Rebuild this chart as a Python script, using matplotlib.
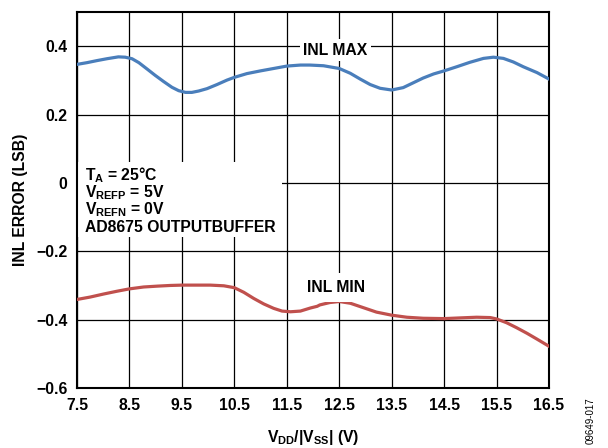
'''
INL error vs supply voltage
'''
import numpy as np
import matplotlib
matplotlib.use('Agg')
import matplotlib.pyplot as plt
from matplotlib.patches import Rectangle

# data
vmax_x = [7.5, 7.69, 7.88, 8.07, 8.29, 8.42, 8.55, 8.68, 8.84, 8.99, 9.15, 9.31, 9.44,
          9.57, 9.69, 9.82, 9.98, 10.17, 10.36, 10.5, 10.74, 11.0, 11.25, 11.5, 11.76,
          11.94, 12.2, 12.5, 12.71, 12.9, 13.09, 13.28, 13.5, 13.72, 13.91, 14.1, 14.3,
          14.5, 14.74, 14.99, 15.25, 15.44, 15.63, 15.82, 16.01, 16.27, 16.5]
inl_max = [0.347, 0.352, 0.358, 0.3635, 0.369, 0.368, 0.3635, 0.352, 0.333, 0.315, 0.297,
           0.280, 0.270, 0.265, 0.265, 0.269, 0.276, 0.288, 0.301, 0.309, 0.320, 0.328,
           0.335, 0.342, 0.345, 0.345, 0.343, 0.335, 0.321, 0.304, 0.288, 0.277, 0.272,
           0.279, 0.293, 0.307, 0.319, 0.328, 0.340, 0.353, 0.3645, 0.368, 0.3645, 0.354,
           0.340, 0.323, 0.304]

vmin_x = [7.5, 7.75, 8.01, 8.26, 8.5, 8.77, 9.03, 9.28, 9.51, 9.79, 10.04, 10.3, 10.5,
          10.68, 10.87, 11.06, 11.25, 11.41, 11.57, 11.76, 11.95, 12.08, 12.13, 12.32,
          12.5, 12.71, 12.96, 13.21, 13.5, 13.79, 14.1, 14.5, 14.8, 15.12, 15.38, 15.5,
          15.69, 15.88, 16.08, 16.27, 16.5]
inl_min = [-0.341, -0.334, -0.325, -0.317, -0.310, -0.3045, -0.302, -0.300, -0.299, -0.299,
           -0.299, -0.301, -0.3065, -0.320, -0.338, -0.354, -0.367, -0.375, -0.377, -0.375,
           -0.366, -0.361, -0.357, -0.350, -0.347, -0.352, -0.365, -0.378, -0.387, -0.393,
           -0.396, -0.397, -0.395, -0.393, -0.394, -0.398, -0.409, -0.4235, -0.440, -0.457,
           -0.478]

xticks = np.arange(7.5, 16.6, 1.0)
yticks = [-0.6, -0.4, -0.2, 0, 0.2, 0.4]
ytick_labels = ['\u22120.6', '\u22120.4', '\u22120.2', '0', '0.2', '0.4']

plt.rcParams['font.family'] = ['Liberation Sans', 'DejaVu Sans']
plt.rcParams['font.weight'] = 'bold'
plt.rcParams['mathtext.fontset'] = 'custom'
plt.rcParams['mathtext.rm'] = 'Liberation Sans:bold'
plt.rcParams['mathtext.it'] = 'Liberation Sans:bold'
plt.rcParams['mathtext.bf'] = 'Liberation Sans:bold'

fs = 11.3
fig = plt.figure(figsize=(6.08, 4.48), dpi=100)
sub = fig.add_axes([0.1266, 0.134, 0.7764, 0.839])

sub.plot(vmax_x, inl_max, lw=2.3, c='#4a7ebb', zorder=3, solid_joinstyle='round')
sub.plot(vmin_x, inl_min, lw=2.3, c='#c0504d', zorder=3, solid_joinstyle='round')

# axes
sub.set_xlim([7.5, 16.5])
sub.set_ylim([-0.6, 0.5])
sub.set_xticks(xticks)
sub.set_xticklabels(['%.1f' % t for t in xticks], fontsize=fs, fontweight='bold')
sub.set_yticks(yticks)
sub.set_yticklabels(ytick_labels, fontsize=fs, fontweight='bold')
sub.tick_params(length=0, pad=7)
sub.grid(True, color='black', lw=0.9)
sub.set_axisbelow(True)
for sp in sub.spines.values():
    sp.set_linewidth(1.5)

sub.set_xlabel(r'$V_{DD}$/|$V_{SS}$| (V)', fontsize=fs, fontweight='bold', labelpad=11)
sub.set_ylabel('INL ERROR (LSB)', fontsize=fs, fontweight='bold', labelpad=5.5)

# conditions box
sub.add_patch(Rectangle((0, 0.4016), 0.434, 0.199, transform=sub.transAxes,
                        facecolor='white', edgecolor='none', zorder=1))
cond = [r'$T_A$ = 25°C', r'$V_{REFP}$ = 5V', r'$V_{REFN}$ = 0V', 'AD8675 OUTPUTBUFFER']
ys = [0.553, 0.508, 0.463, 0.415]
for s, yy in zip(cond, ys):
    sub.text(0.017, yy, s, transform=sub.transAxes, fontsize=fs, fontweight='bold',
             va='baseline', ha='left', zorder=4)

sub.text(12.43, 0.389, 'INL MAX', fontsize=fs, fontweight='bold', ha='center', va='center',
         bbox=dict(facecolor='white', edgecolor='none', pad=2.5), zorder=4)
sub.text(12.44, -0.307, 'INL MIN', fontsize=fs, fontweight='bold', ha='center', va='center',
         bbox=dict(facecolor='white', edgecolor='none', pad=5), zorder=4)

fig.text(0.972, 0.06, '09649-017', rotation=90, fontsize=7, fontweight='normal',
         ha='center', va='center')

fig.savefig('out.png', dpi=100)
plt.close()
